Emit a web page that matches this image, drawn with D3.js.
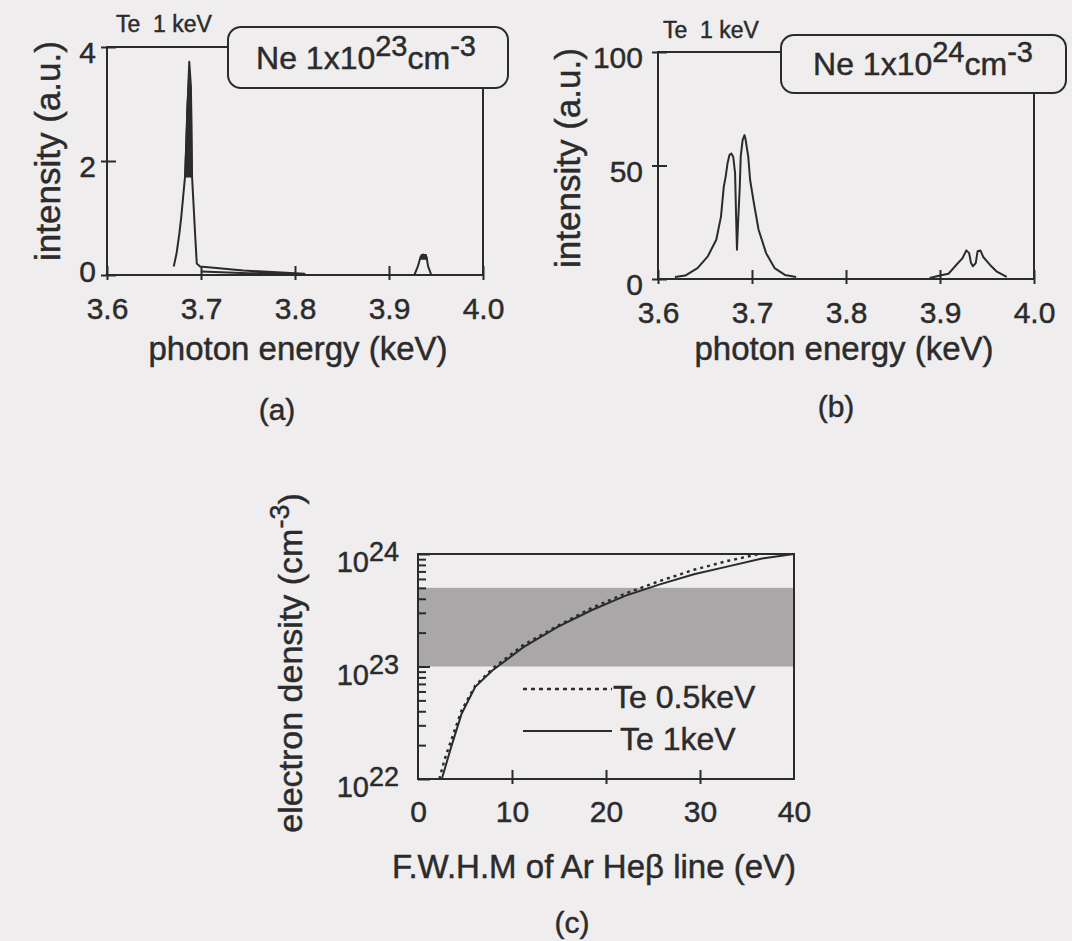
<!DOCTYPE html>
<html>
<head>
<meta charset="utf-8">
<title></title>
<style>
  body { margin: 0; background: #efedee; }
  svg text { font-family: "Liberation Sans", Arial, Helvetica, sans-serif; fill: #2b2b2b; stroke: #2b2b2b; stroke-width: 0.45px; }
</style>
</head>
<body>

<svg id="fig" width="1072" height="941"></svg>

<script src="https://d3js.org/d3.v7.min.js"></script>
<script>
	// ------------------------------------------------------------
	// data
	// ------------------------------------------------------------

	const energyTicks = [3.6, 3.7, 3.8, 3.9, 4.0]
	const intensityTicksA = [0, 2, 4]
	const intensityTicksB = [0, 50, 100]

	// (a) Ne 1x10^23, Te 1 keV : [keV, intensity]
	const heBetaA = [
		[3.671, 0.15], [3.674, 0.38], [3.677, 0.73], [3.679, 1.02], [3.681, 1.37],
		[3.683, 1.72], [3.685, 2.6], [3.6865, 3.3], [3.6875, 3.74], [3.6893, 3.3],
		[3.6905, 1.72], [3.6937, 0.73], [3.6955, 0.2], [3.699, 0.15], [3.745, 0.08],
		[3.81, 0.02], [3.75, 0.03], [3.70, 0.06]
	]
	// dense (unresolved) part of the main line
	const heBetaCoreA = [[3.6828, 1.72], [3.6852, 3.0], [3.6868, 3.45], [3.6898, 3.0], [3.6905, 1.72]]
	const satA = [[3.927, 0], [3.9307, 0.15], [3.9336, 0.32], [3.9365, 0.36], [3.940, 0.31], [3.9416, 0.15], [3.945, 0]]
	const satCoreA = [[3.9334, 0.28], [3.9345, 0.36], [3.9395, 0.36], [3.9405, 0.28]]

	// (b) Ne 1x10^24, Te 1 keV
	const heBetaB = [
		[3.618, 0.9], [3.629, 1.5], [3.642, 4.8], [3.653, 10.0], [3.662, 17.3], [3.667, 27.5],
		[3.670, 40.7], [3.672, 45.1], [3.674, 51.0], [3.676, 54.6], [3.678, 55.3], [3.680, 53.9],
		[3.682, 46.6], [3.683, 29.0], [3.684, 12.9], [3.685, 23.1], [3.687, 40.7], [3.688, 53.9],
		[3.690, 61.2], [3.692, 63.4], [3.693, 61.9], [3.696, 53.9], [3.698, 43.6], [3.702, 33.4],
		[3.707, 21.7], [3.715, 11.4], [3.724, 4.8], [3.735, 1.8], [3.747, 0.9]
	]
	const satB = [
		[3.889, 0.4], [3.900, 1.5], [3.909, 2.3], [3.916, 5.6], [3.924, 9.2], [3.928, 12.6],
		[3.931, 11.4], [3.933, 7.0], [3.935, 5.6], [3.938, 7.0], [3.940, 12.2], [3.943, 12.6],
		[3.946, 9.7], [3.953, 6.3], [3.960, 3.4], [3.971, 0.9]
	]

	// (c) electron density vs FWHM of Ar He-beta
	const fwhmTicks = [0, 10, 20, 30, 40]
	const densityExp = [22, 23, 24]
	const fwhmTe05 = [2.27, 2.82, 3.55, 4.64, 6.09, 7.91, 11.18, 14.82, 18.45, 22.09, 25.73, 29.36, 33.0, 36.3]
	const logNeTe05 = [22.0, 22.17, 22.35, 22.61, 22.83, 22.98, 23.19, 23.36, 23.52, 23.65, 23.76, 23.86, 23.94, 24.0]
	const fwhmTe1 = [2.53, 3.55, 4.64, 6.09, 7.91, 11.18, 14.82, 18.45, 22.09, 25.73, 29.36, 33.0, 36.6, 40.0]
	const logNeTe1 = [22.0, 22.29, 22.58, 22.82, 22.965, 23.17, 23.35, 23.50, 23.63, 23.73, 23.82, 23.89, 23.96, 24.0]
	const bandDensity = [1e23, 5e23]
	const legendLabels = ['Te 0.5keV', 'Te 1keV']

	// ------------------------------------------------------------

	const ink = '#2b2b2b'
	const paper = '#efedee'
	const svg = d3.select('#fig')

	// make d3 ticks cross the axis line
	function crossTicks(axisG, orient, inner, outer) {
		axisG.select('.domain').remove()
		axisG.attr('font-size', null).attr('font-family', null)
		axisG.selectAll('.tick line').attr('stroke', ink).attr('stroke-width', 2)
		if (orient === 'bottom') axisG.selectAll('.tick line').attr('y1', -inner).attr('y2', outer)
		else axisG.selectAll('.tick line').attr('x1', inner).attr('x2', -outer)
		axisG.selectAll('.tick text').attr('fill', ink).style('font-size', '30px')
	}

	function spectrumPanel(p) {
		const x = d3.scaleLinear().domain([3.6, 4.0]).range([p.left, p.right])
		const y = d3.scaleLinear().domain([0, p.ymax]).range([p.bottom, p.top])
		const g = svg.append('g')

		// frame
		g.append('rect')
			.attr('x', p.left).attr('y', p.top)
			.attr('width', p.right - p.left).attr('height', p.bottom - p.top)
			.attr('fill', 'none').attr('stroke', ink).attr('stroke-width', 2)

		const xa = g.append('g')
			.attr('transform', `translate(0,${p.bottom})`)
			.call(d3.axisBottom(x).tickValues(energyTicks).tickFormat(d3.format('.1f')).tickSize(0).tickPadding(23))
		crossTicks(xa, 'bottom', 9, 5)

		const ya = g.append('g')
			.attr('transform', `translate(${p.left},0)`)
			.call(d3.axisLeft(y).tickValues(p.yticks).tickFormat(d3.format('d')).tickSize(0).tickPadding(p.ypad))
		crossTicks(ya, 'left', 9, 6)
		ya.selectAll('.tick text').attr('dy', d => d === 0 ? p.zeroDy : '0.52em')

		// spectra
		const line = d3.line().x(d => x(d[0])).y(d => y(d[1]))
		p.lines.forEach(s => {
			g.append('path').attr('d', line(s))
				.attr('fill', 'none').attr('stroke', ink).attr('stroke-width', 2)
				.attr('stroke-linejoin', 'round')
		})
		p.cores.forEach(s => {
			g.append('path').attr('d', line(s) + 'Z')
				.attr('fill', ink).attr('stroke', ink).attr('stroke-width', 1.2)
		})

		// "Te 1 keV"
		g.append('text')
			.attr('x', p.teX).attr('y', p.teY)
			.style('font-size', '23px').style('white-space', 'pre')
			.text('Te  1 keV')

		// density box over the top-right corner of the frame
		g.append('rect')
			.attr('x', p.box[0]).attr('y', p.box[1])
			.attr('width', p.box[2]).attr('height', p.box[3])
			.attr('rx', 13).attr('fill', paper).attr('stroke', ink).attr('stroke-width', 2)
		const t = g.append('text')
			.attr('x', p.textX).attr('y', p.boxBase)
			.attr('text-anchor', 'middle').style('font-size', '32px')
		t.append('tspan').text('Ne 1x10')
		t.append('tspan').attr('dy', -13).style('font-size', '29px').text(p.exp)
		t.append('tspan').attr('dy', 13).text('cm')
		t.append('tspan').attr('dy', -13).style('font-size', '29px').text('-3')

		// axis titles
		g.append('text')
			.attr('x', p.xTitle[0]).attr('y', p.xTitle[1])
			.attr('text-anchor', 'middle').style('font-size', '33px')
			.text('photon energy (keV)')
		g.append('text')
			.attr('transform', `translate(${p.yTitle[0]},${p.yTitle[1]}) rotate(-90)`)
			.attr('text-anchor', 'middle').style('font-size', '35px')
			.text('intensity (a.u.)')
		g.append('text')
			.attr('x', p.tag[0]).attr('y', p.tag[1])
			.attr('text-anchor', 'middle').style('font-size', '30px')
			.text(p.tagText)
	}

	spectrumPanel({
		left: 107, right: 483, top: 47, bottom: 275, ymax: 4, yticks: intensityTicksA, ypad: 11, zeroDy: '0.2em',
		lines: [heBetaA, satA], cores: [heBetaCoreA, satCoreA],
		teX: 116, teY: 32, box: [228, 27, 280, 61], textX: 366, boxBase: 69, exp: '23',
		xTitle: [298, 360], yTitle: [60, 151], tag: [277, 420], tagText: '(a)'
	})

	spectrumPanel({
		left: 658, right: 1034, top: 52, bottom: 279, ymax: 100, yticks: intensityTicksB, ypad: 15, zeroDy: '0.52em',
		lines: [heBetaB, satB], cores: [],
		teX: 663, teY: 38, box: [781, 35, 285, 58], textX: 923, boxBase: 75, exp: '24',
		xTitle: [844, 360], yTitle: [580, 158], tag: [836, 417], tagText: '(b)'
	})

	// ------------------------------------------------------------
	// (c)
	// ------------------------------------------------------------
	const c = { left: 418, right: 794, top: 554, bottom: 779 }
	const xc = d3.scaleLinear().domain([0, 40]).range([c.left, c.right])
	const yc = d3.scaleLog().domain([1e22, 1e24]).range([c.bottom, c.top])
	const gc = svg.append('g')

	// shaded range of measured density
	gc.append('rect')
		.attr('x', c.left).attr('width', c.right - c.left)
		.attr('y', yc(bandDensity[1])).attr('height', yc(bandDensity[0]) - yc(bandDensity[1]))
		.attr('fill', '#aaa7a9')

	gc.append('rect')
		.attr('x', c.left).attr('y', c.top)
		.attr('width', c.right - c.left).attr('height', c.bottom - c.top)
		.attr('fill', 'none').attr('stroke', ink).attr('stroke-width', 2)

	const xca = gc.append('g')
		.attr('transform', `translate(0,${c.bottom})`)
		.call(d3.axisBottom(xc).tickValues(fwhmTicks).tickFormat(d3.format('d')).tickSize(0).tickPadding(22))
	crossTicks(xca, 'bottom', 9, 5)
	xca.selectAll('.tick').filter(d => d === 0 || d === 40).select('line').remove()

	// minor ticks of the log axis
	const yca = gc.append('g')
		.attr('transform', `translate(${c.left},0)`)
		.call(d3.axisLeft(yc).tickValues(yc.ticks()).tickFormat('').tickSize(0))
	crossTicks(yca, 'left', 8, 0)
	yca.selectAll('.tick line').filter(d => Math.abs(Math.log10(d) % 1) < 1e-6).attr('x1', 12)

	// major labels 10^n
	const lab = gc.selectAll('.ylab').data(densityExp).enter()
		.append('text')
		.attr('x', c.left - 19).attr('y', d => yc(Math.pow(10, d)) + 18)
		.attr('text-anchor', 'end').style('font-size', '29px')
	lab.append('tspan').text('10')
	lab.append('tspan').attr('dy', -11).style('font-size', '27px').text(d => d)

	const lineC = d3.line().x(d => xc(d[0])).y(d => yc(Math.pow(10, d[1])))
	gc.append('path')
		.attr('d', lineC(d3.zip(fwhmTe05, logNeTe05)))
		.attr('fill', 'none').attr('stroke', ink).attr('stroke-width', 2.4).attr('stroke-dasharray', '3,4')
	gc.append('path')
		.attr('d', lineC(d3.zip(fwhmTe1, logNeTe1)))
		.attr('fill', 'none').attr('stroke', ink).attr('stroke-width', 2)

	// legend
	const leg = gc.selectAll('.leg').data(legendLabels).enter().append('g')
		.attr('transform', (d, i) => `translate(523,${689 + i * 42})`)
	leg.append('line').attr('x1', 0).attr('x2', 89)
		.attr('stroke', ink).attr('stroke-width', (d, i) => i === 0 ? 2.4 : 2)
		.attr('stroke-dasharray', (d, i) => i === 0 ? '4,4' : null)
	leg.append('text').attr('x', (d, i) => i === 0 ? 90 : 97).attr('y', 19)
		.style('font-size', '32px').text(d => d)

	gc.append('text')
		.attr('x', 594).attr('y', 878)
		.attr('text-anchor', 'middle').style('font-size', '33px')
		.text('F.W.H.M of Ar Heβ line (eV)')

	const yt = gc.append('text')
		.attr('transform', 'translate(302,663) rotate(-90)')
		.attr('text-anchor', 'middle').style('font-size', '34px')
	yt.append('tspan').text('electron density (cm')
	yt.append('tspan').attr('dy', -13).style('font-size', '27px').text('-3')
	yt.append('tspan').attr('dy', 13).text(')')

	gc.append('text')
		.attr('x', 572).attr('y', 933)
		.attr('text-anchor', 'middle').style('font-size', '30px')
		.text('(c)')
</script>
</body>
</html>
